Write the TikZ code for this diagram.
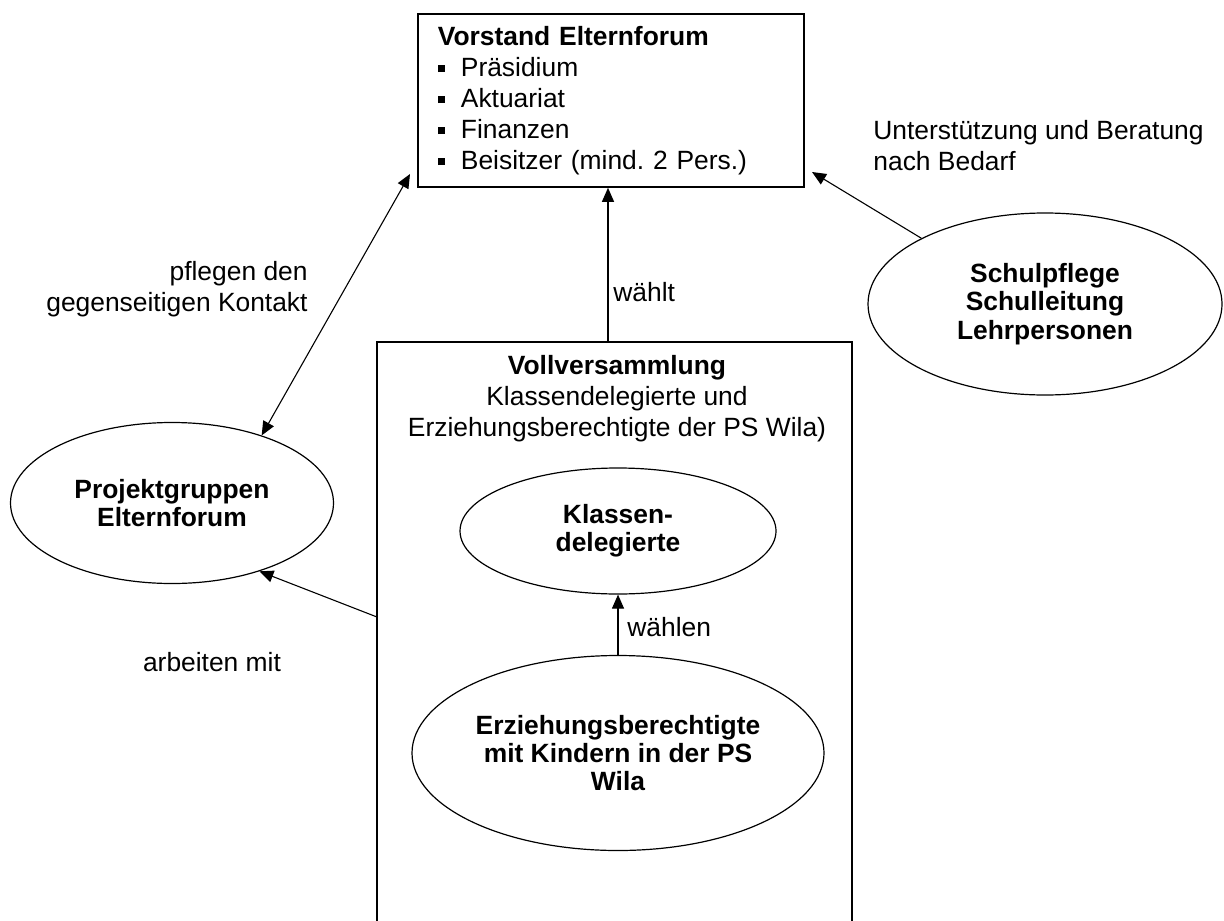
\documentclass[tikz,border=0pt]{standalone}
\usepackage{fontspec}
\setmainfont{Liberation Sans}
\usetikzlibrary{arrows.meta,shapes.geometric}
\newcommand{\quadpunkt}{\rule[0.3ex]{3.5pt}{3.5pt}\hspace{8pt}}
\frenchspacing

\begin{document}
\begin{tikzpicture}[x=0.5pt,y=-0.5pt,
  font=\fontsize{13.2}{15.5}\selectfont,
  kasten/.style={draw,line width=0.9pt},
  oval/.style={draw,ellipse,line width=0.6pt,inner sep=0pt,align=center,font=\fontsize{13.2}{14.2}\selectfont\bfseries},
  pfeil/.style={line width=0.55pt,-{Triangle[length=7pt,width=6pt]}},
  doppelpfeil/.style={line width=0.55pt,{Triangle[length=7pt,width=6pt]}-{Triangle[length=7pt,width=6pt]}},
  beschr/.style={inner sep=0pt}]
\useasboundingbox (0,0) rectangle (1224,920);

% Vorstand
\node[kasten,anchor=north west,minimum height=86.5pt,inner xsep=10pt,text width=173pt,align=left] (vorstand) at (417,13)
  {\textbf{Vorstand Elternforum}\\ \quadpunkt Präsidium\\ \quadpunkt Aktuariat\\ \quadpunkt Finanzen\\ \quadpunkt Beisitzer (mind. 2 Pers.)};

% Vollversammlung (offen nach unten)
\draw[kasten] (377,935) |- (852,342) -- (852,935);
\coordinate (vollvOben) at (608,342);
\coordinate (vollvLinks) at (377,617);
\node[beschr,align=center] (vollvText) at (617,399)
  {\textbf{Vollversammlung}\\Klassendelegierte und\\Erziehungsberechtigte der PS Wila)};

% Ellipsen
\node[oval,minimum width=158pt,minimum height=63pt] (klassen) at (618,531) {Klassen-\\delegierte};
\node[oval,minimum width=206pt,minimum height=97.5pt] (eltern) at (618,753) {Erziehungsberechtigte\\mit Kindern in der PS\\Wila};
\node[oval,minimum width=161.5pt,minimum height=80.5pt] (projekt) at (172,503) {Projektgruppen\\Elternforum};
\node[oval,minimum width=177pt,minimum height=91pt] (schul) at (1045,304) {Schulpflege\\Schulleitung\\Lehrpersonen};

% Pfeile
\coordinate (kontakt) at (410,174);
\coordinate (beratung) at (812,172);
\draw[pfeil] (vollvOben) -- (vollvOben |- vorstand.south);
\draw[pfeil] (eltern.north) -- (klassen.south);
\draw[doppelpfeil] (projekt.37) -- (kontakt);
\draw[pfeil] (vollvLinks) -- (projekt.-38);
\draw[pfeil] (schul.152) -- (beratung);

% Beschriftungen
\node[beschr,anchor=west] (waehlt) at (613,292) {wählt};
\node[beschr,anchor=west] (waehlen) at (627,627) {wählen};
\node[beschr,anchor=east,align=right] (pflegen) at (308,289) {pflegen den\\gegenseitigen Kontakt};
\node[beschr] (arbeiten) at (212,662) {arbeiten mit};
\node[beschr,anchor=west,align=left] (unterst) at (873,146) {Unterstützung und Beratung\\nach Bedarf};

\end{tikzpicture}
\end{document}
